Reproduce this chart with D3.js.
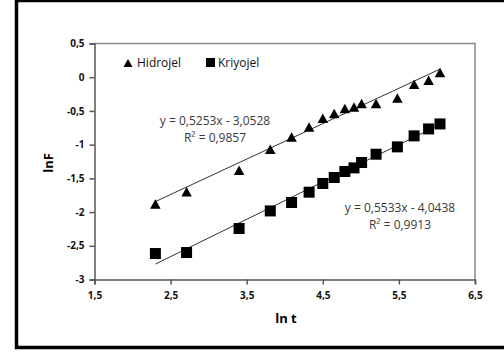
<!DOCTYPE html>
<html>
<head>
<meta charset="utf-8">
<script src="https://cdn.jsdelivr.net/npm/d3@7"></script>
<style>
  body { margin: 0; background: white; }
  svg { display: block; }
</style>
</head>
<body>
<div id="chart"></div>
<script>
// ln t values (t = 10 ... 420 min)
const lnT = [2.30, 2.71, 3.40, 3.81, 4.09, 4.32, 4.50, 4.65, 4.79, 4.91, 5.01, 5.20, 5.48, 5.70, 5.89, 6.04]
const hidrojel = [-1.88, -1.70, -1.38, -1.07, -0.885, -0.737, -0.608, -0.538, -0.464, -0.44, -0.39, -0.39, -0.307, -0.104, -0.044, 0.07]
const kriyojel = [-2.615, -2.60, -2.244, -1.983, -1.858, -1.705, -1.576, -1.487, -1.398, -1.345, -1.265, -1.142, -1.033, -0.870, -0.767, -0.693]

// trend line coefficients [slope, intercept] as printed on the chart
const hidrojelFit = [0.5253, -3.0528]
const kriyojelFit = [0.5533, -4.0438]
const hidrojelLabel = ["y = 0,5253x - 3,0528", "R² = 0,9857"]
const kriyojelLabel = ["y = 0,5533x - 4,0438", "R² = 0,9913"]

const xTicks = [1.5, 2.5, 3.5, 4.5, 5.5, 6.5]
const yTicks = [-3, -2.5, -2, -1.5, -1, -0.5, 0, 0.5]

const WIDTH = 504
const HEIGHT = 352
const FONT = "'Open Sans', 'Liberation Sans', sans-serif"
const AXIS_COLOR = "#555555"
const FRAME_COLOR = "#888888"
const TEXT_COLOR = "#3a3a3a"

const comma = v => String(v).replace(".", ",")

let svg = d3.select("#chart").append("svg")
    .attr("width", WIDTH)
    .attr("height", HEIGHT)

// outer black frame (right side runs off the picture)
svg.append("rect")
    .attr("x", 16.5)
    .attr("y", 0.5)
    .attr("width", 520)
    .attr("height", 347)
    .attr("fill", "white")
    .attr("stroke", "black")
    .attr("stroke-width", 3.5)

let x = d3.scaleLinear().domain([1.5, 6.5]).range([94.5, 475])
let y = d3.scaleLinear().domain([-3, 0.5]).range([279.5, 43.5])

// plot area frame, top and right in light gray
svg.append("path")
    .attr("d", "M" + x(1.5) + "," + y(0.5) + "H" + x(6.5) + "V" + y(-3))
    .attr("fill", "none")
    .attr("stroke", FRAME_COLOR)
    .attr("stroke-width", 1.5)

let yAxis = svg.append("g")
    .attr("transform", "translate(" + x(1.5) + ",0)")
    .call(d3.axisLeft(y).tickValues(yTicks).tickSize(5).tickPadding(5).tickFormat(comma))
let xAxis = svg.append("g")
    .attr("transform", "translate(0," + y(-3) + ")")
    .call(d3.axisBottom(x).tickValues(xTicks).tickSize(5).tickPadding(7).tickFormat(comma))

for (let ax of [xAxis, yAxis]) {
    ax.select(".domain").attr("stroke", AXIS_COLOR).attr("stroke-width", 1.5)
    ax.selectAll(".tick line").attr("stroke", AXIS_COLOR).attr("stroke-width", 1.5)
    ax.selectAll(".tick text")
        .attr("fill", "#111")
        .style("font-family", FONT)
        .style("font-size", "10px")
        .style("font-weight", "bold")
}

// trend lines
function drawTrend(fit) {
    let x1 = lnT[0]
    let x2 = lnT[lnT.length - 1]
    svg.append("line")
        .attr("x1", x(x1))
        .attr("y1", y(fit[0] * x1 + fit[1]))
        .attr("x2", x(x2))
        .attr("y2", y(fit[0] * x2 + fit[1]))
        .attr("stroke", "#333")
        .attr("stroke-width", 1)
}
drawTrend(hidrojelFit)
drawTrend(kriyojelFit)

// triangle centred on its bounding box, like the spreadsheet marker
function triangle(w, h) {
    return "M0," + (-h / 2) + "L" + (w / 2) + "," + (h / 2) + "L" + (-w / 2) + "," + (h / 2) + "Z"
}

svg.append("g").selectAll("path")
    .data(lnT.map((t, i) => [t, hidrojel[i]]))
    .join("path")
    .attr("d", triangle(10.5, 9.5))
    .attr("transform", d => "translate(" + x(d[0]) + "," + y(d[1]) + ")")
    .attr("fill", "black")

const SQ = 11
svg.append("g").selectAll("rect")
    .data(lnT.map((t, i) => [t, kriyojel[i]]))
    .join("rect")
    .attr("x", d => x(d[0]) - SQ / 2)
    .attr("y", d => y(d[1]) - SQ / 2)
    .attr("width", SQ)
    .attr("height", SQ)
    .attr("fill", "black")

// equation labels
function drawLabel(lines, cx, baseline) {
    svg.append("text")
        .attr("x", cx)
        .attr("y", baseline)
        .attr("text-anchor", "middle")
        .attr("fill", TEXT_COLOR)
        .style("font-family", FONT)
        .style("font-size", "12px")
        .selectAll("tspan")
        .data(lines)
        .join("tspan")
        .attr("x", cx)
        .attr("dy", (d, i) => i === 0 ? 0 : 17)
        .text(d => d)
}
drawLabel(hidrojelLabel, 215, 125)
drawLabel(kriyojelLabel, 400, 212)

// legend
let legend = svg.append("g").style("font-family", FONT).style("font-size", "12px")
legend.append("path")
    .attr("d", triangle(9, 8))
    .attr("transform", "translate(128,63)")
    .attr("fill", "black")
legend.append("text").attr("x", 137).attr("y", 67).attr("fill", "#111").text("Hidrojel")
legend.append("rect")
    .attr("x", 206).attr("y", 58).attr("width", 9).attr("height", 9)
    .attr("fill", "black")
legend.append("text").attr("x", 218).attr("y", 67).attr("fill", "#111").text("Kriyojel")

// axis titles
svg.append("text")
    .attr("x", 286)
    .attr("y", 323)
    .attr("text-anchor", "middle")
    .style("font-family", FONT)
    .style("font-size", "13px")
    .style("font-weight", "bold")
    .text("ln t")
svg.append("text")
    .attr("transform", "translate(53,163) rotate(-90)")
    .attr("text-anchor", "middle")
    .style("font-family", FONT)
    .style("font-size", "13px")
    .style("font-weight", "bold")
    .text("lnF")
</script>
</body>
</html>
